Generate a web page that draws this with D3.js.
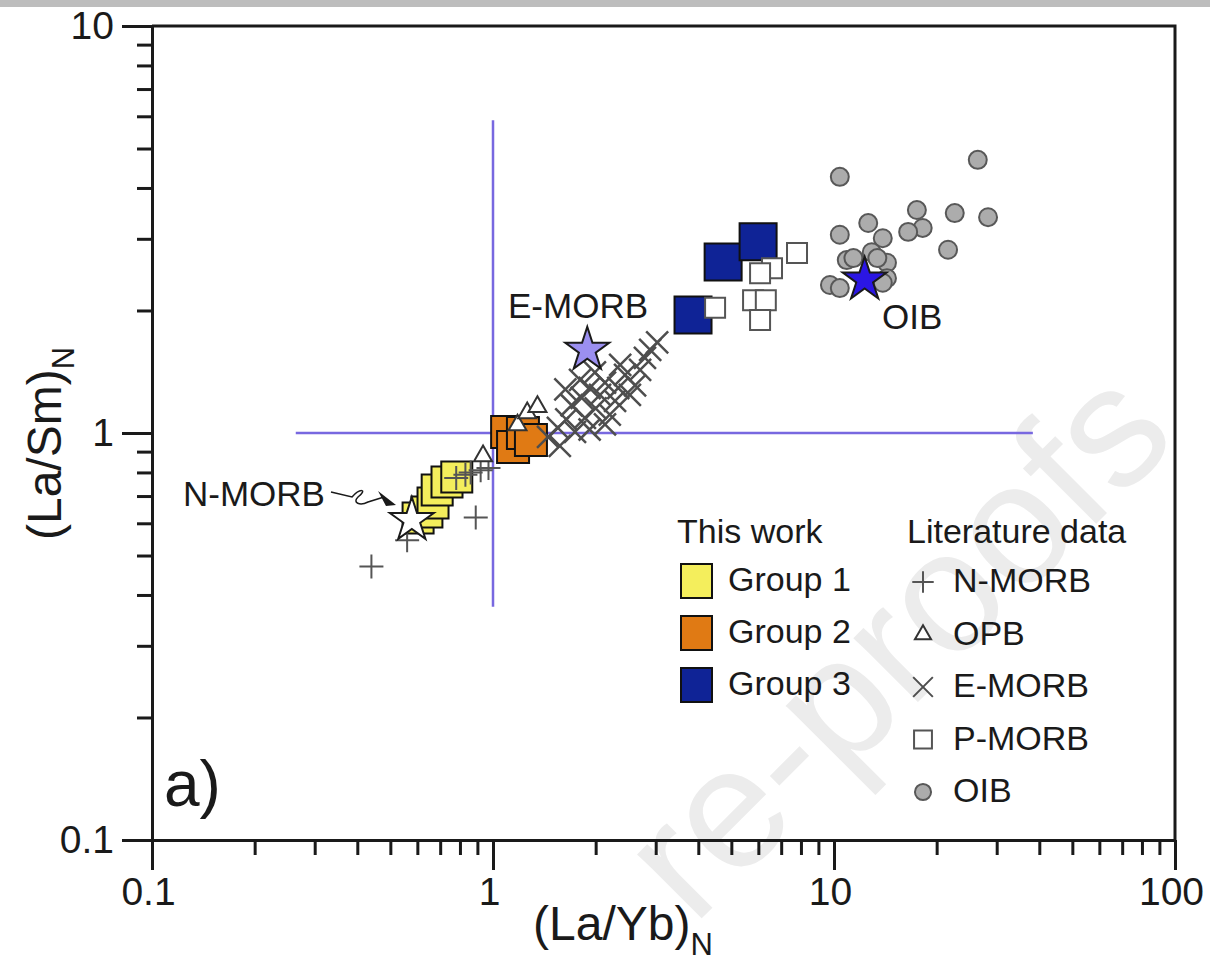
<!DOCTYPE html>
<html>
<head>
<meta charset="utf-8">
<script src="https://cdn.jsdelivr.net/npm/d3@7"></script>
<style>
  body { margin: 0; background: #fff; }
  svg { display: block; font-family: 'Liberation Sans', Arial, sans-serif; }
</style>
</head>
<body>
<div id="chart"></div>
<script>
// tick labels
const xTickValues = [0.1, 1, 10, 100]
const yTickValues = [0.1, 1, 10]

// this work: [(La/Yb)N, (La/Sm)N]
const groupOne = [[0.603, 0.618], [0.640, 0.640], [0.667, 0.673], [0.686, 0.724], [0.733, 0.758], [0.783, 0.780]]
const groupTwo = [[1.10, 1.006], [1.145, 0.924], [1.224, 1.0], [1.292, 0.961]]
const groupThree = [[3.86, 1.95], [4.73, 2.63], [5.99, 2.95]]

// literature data
const nMorb = [[0.44, 0.47], [0.56, 0.545], [0.89, 0.62], [0.78, 0.775], [0.83, 0.79], [0.92, 0.81], [0.97, 0.82], [0.86, 0.80]]
const opb = [[0.935, 0.878], [1.18, 1.046], [1.26, 1.12], [1.35, 1.16]]
const eMorb = [[1.45, 0.978], [1.55, 1.03], [1.64, 1.08], [1.74, 1.006], [1.70, 1.17], [1.82, 1.22], [1.86, 1.09],
  [1.92, 1.29], [2.0, 1.15], [2.06, 1.24], [2.13, 1.33], [2.2, 1.11], [2.28, 1.2], [2.33, 1.29], [2.44, 1.39],
  [2.52, 1.24], [1.99, 1.41], [1.8, 1.35], [1.63, 1.28], [2.7, 1.43], [2.89, 1.6], [3.03, 1.67], [2.79, 1.53],
  [2.36, 1.47], [2.13, 1.05], [1.57, 0.93], [1.92, 1.02], [2.61, 1.31]]
const pMorb = [[4.48, 2.03], [7.79, 2.77], [6.58, 2.54], [6.07, 2.47], [5.79, 2.12], [6.31, 2.12], [6.07, 1.895]]
const oib = [[10.4, 4.26], [26.4, 4.69], [17.5, 3.53], [22.6, 3.47], [28.3, 3.39], [12.6, 3.28], [18.2, 3.19],
  [16.5, 3.12], [10.4, 3.07], [13.9, 3.01], [21.6, 2.82], [12.9, 2.78], [10.9, 2.66], [11.4, 2.69], [14.3, 2.62],
  [13.4, 2.69], [9.73, 2.31], [10.4, 2.27], [14.3, 2.40], [13.9, 2.34]]

// average compositions
const stars = [
  {name: 'N-MORB', value: [0.578, 0.611], fill: '#ffffff'},
  {name: 'E-MORB', value: [1.89, 1.6], fill: '#9b8ff0'},
  {name: 'OIB', value: [12.3, 2.38], fill: '#2b16e4'}
]

// reference lines
const hLine = [[0.264, 1], [38.3, 1]]
const vLine = [[1, 0.374], [1, 5.87]]

const groupNames = ['Group 1', 'Group 2', 'Group 3']
const literatureNames = ['N-MORB', 'OPB', 'E-MORB', 'P-MORB', 'OIB']

const width = 1210
const height = 962
const margins = {top: 26, left: 152, right: 35, bottom: 122}
const xEnd = width - margins.right
const yEnd = height - margins.bottom
const ink = '#1a1a1a'

const x = d3.scaleLog().domain([0.1, 100]).range([margins.left, xEnd])
const y = d3.scaleLog().domain([0.1, 10]).range([yEnd, margins.top])

const groupColor = ['#f4ee5c', '#e07a14', '#0f2396']
const groupSize = [31, 32, 37]

const literatureStyle = [
  {type: d3.symbolPlus, size: 190, fill: 'none', stroke: '#555555'},
  {type: d3.symbolTriangle2, size: 232, fill: '#ffffff', stroke: '#333333'},
  {type: d3.symbolTimes, size: 318, fill: 'none', stroke: '#4e4e4e'},
  {type: d3.symbolSquare, size: 400, fill: '#ffffff', stroke: '#555555'},
  {type: d3.symbolCircle, size: 254, fill: '#acacac', stroke: '#585858'}
]

const svg = d3.select('#chart')
  .append('svg')
    .attr('width', width)
    .attr('height', height)

function renderBackground () {
  svg.append('rect')
    .attr('x', 0).attr('y', 0)
    .attr('width', width).attr('height', 7)
    .attr('fill', '#bdbdbd')

  // watermark, only the part that shows on the page
  svg.append('text')
    .attr('transform', 'translate(1180,440) rotate(-45)')
    .attr('text-anchor', 'end')
    .attr('font-size', 172)
    .attr('fill', '#ececec')
    .text('re-proofs')
}

function renderAxes () {
  const isMajor = (v, list) => list.includes(+v.toPrecision(3))

  let xMinorG = svg.append('g')
    .attr('transform', 'translate(0,' + yEnd + ')')
    .call(d3.axisBottom(x)
      .tickValues(x.ticks().filter(v => !isMajor(v, xTickValues)))
      .tickSize(15).tickSizeOuter(0).tickFormat(''))

  let xMajorG = svg.append('g')
    .attr('transform', 'translate(0,' + yEnd + ')')
    .call(d3.axisBottom(x)
      .tickValues(xTickValues)
      .tickSize(30).tickSizeOuter(0).tickPadding(7).tickFormat(String))
  xMajorG.selectAll('text').attr('dx', -4)

  let yMinorG = svg.append('g')
    .attr('transform', 'translate(' + margins.left + ',0)')
    .call(d3.axisLeft(y)
      .tickValues(y.ticks().filter(v => !isMajor(v, yTickValues)))
      .tickSize(15).tickSizeOuter(0).tickFormat(''))

  let yMajorG = svg.append('g')
    .attr('transform', 'translate(' + margins.left + ',0)')
    .call(d3.axisLeft(y)
      .tickValues(yTickValues)
      .tickSize(30).tickSizeOuter(0).tickPadding(8).tickFormat(String))

  for (const g of [xMinorG, xMajorG, yMinorG, yMajorG]) {
    g.attr('font-family', null).attr('font-size', 39)
    g.selectAll('line, path').attr('stroke', ink).attr('stroke-width', 3)
    g.selectAll('text').attr('fill', ink)
  }

  // top and right frame
  svg.append('path')
    .attr('d', 'M' + margins.left + ',' + margins.top + 'H' + xEnd + 'V' + yEnd)
    .attr('fill', 'none')
    .attr('stroke', ink)
    .attr('stroke-width', 3)

  // axis titles
  let xTitle = svg.append('text')
    .attr('x', 533).attr('y', 940)
    .attr('font-size', 48)
    .attr('fill', ink)
  xTitle.append('tspan').text('(La/Yb)')
  xTitle.append('tspan').attr('font-size', 31).attr('dy', 15).text('N')

  let yTitle = svg.append('text')
    .attr('transform', 'translate(61,540) rotate(-90)')
    .attr('font-size', 48)
    .attr('fill', ink)
  yTitle.append('tspan').text('(La/Sm)')
  yTitle.append('tspan').attr('font-size', 31).attr('dy', 13).text('N')

  svg.append('text')
    .attr('x', 164).attr('y', 806)
    .attr('font-size', 64)
    .attr('fill', ink)
    .text('a)')
}

function renderLines () {
  const line = d3.line().x(d => x(d[0])).y(d => y(d[1]))
  svg.append('g')
    .selectAll('path')
    .data([hLine, vLine])
    .enter()
      .append('path')
      .attr('d', line)
      .attr('fill', 'none')
      .attr('stroke', '#7868e0')
      .attr('stroke-width', 2.5)
}

function renderPoints () {
  const groups = [groupOne, groupTwo, groupThree]
  groups.forEach((data, i) => {
    svg.append('g')
      .selectAll('path')
      .data(data)
      .enter()
        .append('path')
        .attr('transform', d => 'translate(' + x(d[0]) + ',' + y(d[1]) + ')')
        .attr('d', d3.symbol(d3.symbolSquare, groupSize[i] * groupSize[i]))
        .attr('fill', groupColor[i])
        .attr('stroke', '#111')
        .attr('stroke-width', 2)
  })

  const literature = [nMorb, opb, eMorb, pMorb, oib]
  literature.forEach((data, i) => {
    const s = literatureStyle[i]
    svg.append('g')
      .selectAll('path')
      .data(data)
      .enter()
        .append('path')
        .attr('transform', d => 'translate(' + x(d[0]) + ',' + y(d[1]) + ')')
        .attr('d', d3.symbol(s.type, s.size))
        .attr('fill', s.fill)
        .attr('stroke', s.stroke)
        .attr('stroke-width', i === 2 ? 2.5 : 2)
  })

  svg.append('g')
    .selectAll('path')
    .data(stars)
    .enter()
      .append('path')
      .attr('transform', d => 'translate(' + x(d.value[0]) + ',' + y(d.value[1]) + ')')
      .attr('d', d3.symbol(d3.symbolStar, 600))
      .attr('fill', d => d.fill)
      .attr('stroke', ink)
      .attr('stroke-width', 2)
}

function renderLabels () {
  const labels = [
    {text: 'N-MORB', x: 183, y: 506},
    {text: 'E-MORB', x: 508, y: 318},
    {text: 'OIB', x: 882, y: 329}
  ]
  svg.append('g')
    .selectAll('text')
    .data(labels)
    .enter()
      .append('text')
      .attr('x', d => d.x)
      .attr('y', d => d.y)
      .attr('font-size', 35)
      .attr('fill', ink)
      .text(d => d.text)

  // squiggly pointer to the N-MORB star
  svg.append('path')
    .attr('d', 'M331,492 L352,497 C360,488 368,489 358,497 C352,503 360,506 368,502 L384,497')
    .attr('fill', 'none')
    .attr('stroke', ink)
    .attr('stroke-width', 1.5)
  svg.append('path')
    .attr('d', 'M378,491 L396,505 L386,506 Z')
    .attr('fill', ink)
}

function renderLegend () {
  let g = svg.append('g').classed('legend', true)
  const font = 34

  g.append('text').attr('x', 677).attr('y', 543).attr('font-size', font).attr('fill', ink).text('This work')
  g.append('text').attr('x', 907).attr('y', 543).attr('font-size', font).attr('fill', ink).text('Literature data')

  groupNames.forEach((name, i) => {
    g.append('rect')
      .attr('x', 681).attr('y', 564 + i * 52)
      .attr('width', 31).attr('height', 34)
      .attr('fill', groupColor[i])
      .attr('stroke', '#111')
      .attr('stroke-width', 2)
    g.append('text')
      .attr('x', 728).attr('y', 591 + i * 52)
      .attr('font-size', font).attr('fill', ink)
      .text(name)
  })

  literatureNames.forEach((name, i) => {
    const s = literatureStyle[i]
    g.append('path')
      .attr('transform', 'translate(923,' + (582 + i * 52.5) + ')')
      .attr('d', d3.symbol(s.type, s.size * 0.8))
      .attr('fill', s.fill)
      .attr('stroke', s.stroke)
      .attr('stroke-width', 2)
    g.append('text')
      .attr('x', 953).attr('y', 592 + i * 52.5)
      .attr('font-size', font).attr('fill', ink)
      .text(name)
  })
}

renderBackground()
renderLines()
renderPoints()
renderAxes()
renderLabels()
renderLegend()
</script>
</body>
</html>
